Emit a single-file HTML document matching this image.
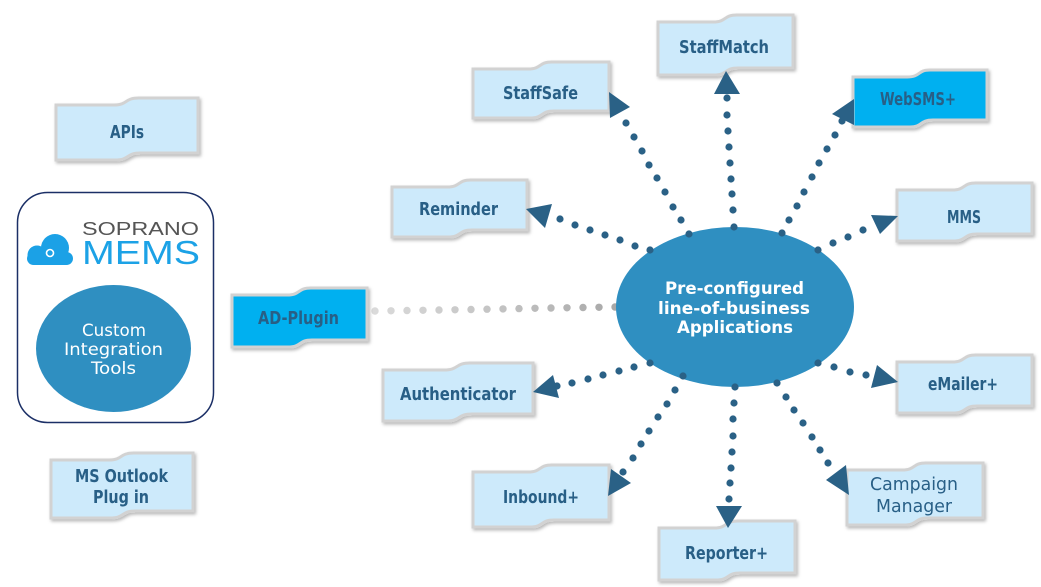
<!DOCTYPE html>
<html><head><meta charset="utf-8"><style>
html,body{margin:0;padding:0;background:#fff;}
svg{display:block;}
.bx{fill:#cdeafb;stroke:#d2d2d2;stroke-width:3;filter:url(#sh);}
.hl{fill:#00b0f0;}
.t{font-family:"DejaVu Sans","Liberation Sans",sans-serif;font-weight:bold;font-size:18px;fill:#285f86;text-anchor:middle;}
.tr{font-family:"DejaVu Sans","Liberation Sans",sans-serif;font-size:18px;fill:#285f86;text-anchor:middle;}
.w{font-family:"DejaVu Sans","Liberation Sans",sans-serif;font-size:16.5px;fill:#fff;text-anchor:middle;}
.wb{font-family:"DejaVu Sans","Liberation Sans",sans-serif;font-weight:bold;font-size:17px;fill:#fff;text-anchor:middle;}
.d circle{fill:#2a6186;}
.a polygon{fill:#2a6186;}
</style></head><body>
<svg width="1041" height="587" viewBox="0 0 1041 587" xmlns="http://www.w3.org/2000/svg">
<defs>
<filter id="sh" x="-10%" y="-15%" width="125%" height="140%">
<feDropShadow dx="1.5" dy="2" stdDeviation="1.5" flood-color="#000" flood-opacity="0.28"/>
</filter>
</defs>

<!-- left container -->
<rect x="17.5" y="192.5" width="196" height="230" rx="30" ry="30" fill="#fff" stroke="#1b2f66" stroke-width="1.5"/>
<!-- cloud -->
<g fill="#1ba1e6">
<circle cx="55" cy="248" r="14"/>
<circle cx="37" cy="255" r="9.5"/>
<rect x="27" y="252" width="46" height="13" rx="6.5"/>
</g>
<circle cx="50" cy="253" r="3.5" fill="none" stroke="#fff" stroke-width="1.6"/>
<text x="82" y="235" font-family="Liberation Sans, sans-serif" font-size="18" fill="#555" textLength="117" lengthAdjust="spacingAndGlyphs">SOPRANO</text>
<text x="82" y="264" font-family="Liberation Sans, sans-serif" font-size="33" fill="#1ca2e6" textLength="118" lengthAdjust="spacingAndGlyphs">MEMS</text>
<ellipse cx="113.5" cy="348.5" rx="77.5" ry="63.5" fill="#2f8fc1"/>
<text class="w" x="114" y="336" textLength="64" lengthAdjust="spacingAndGlyphs">Custom</text>
<text class="w" x="113.5" y="355" textLength="99" lengthAdjust="spacingAndGlyphs">Integration</text>
<text class="w" x="113.5" y="374" textLength="45" lengthAdjust="spacingAndGlyphs">Tools</text>

<!-- gray dots to AD-Plugin -->
<g>
<circle cx="615" cy="307" r="3.7" fill="#a8a8a8"/>
<circle cx="599" cy="307.3" r="3.7" fill="#acacac"/>
<circle cx="583" cy="307.5" r="3.7" fill="#b0b0b0"/>
<circle cx="567" cy="307.8" r="3.7" fill="#b4b4b4"/>
<circle cx="551" cy="308" r="3.7" fill="#b8b8b8"/>
<circle cx="535" cy="308.3" r="3.7" fill="#bbbbbb"/>
<circle cx="519" cy="308.6" r="3.7" fill="#bebebe"/>
<circle cx="503" cy="308.9" r="3.7" fill="#c2c2c2"/>
<circle cx="487" cy="309.2" r="3.7" fill="#c5c5c5"/>
<circle cx="471" cy="309.5" r="3.7" fill="#c8c8c8"/>
<circle cx="455" cy="309.8" r="3.7" fill="#cbcbcb"/>
<circle cx="439" cy="310" r="3.7" fill="#cecece"/>
<circle cx="423" cy="310.3" r="3.7" fill="#d1d1d1"/>
<circle cx="407" cy="310.5" r="3.7" fill="#d4d4d4"/>
<circle cx="391" cy="310.8" r="3.7" fill="#d7d7d7"/>
<circle cx="375" cy="311" r="3.7" fill="#dadada"/>
</g>

<!-- central ellipse -->
<ellipse cx="735" cy="307" rx="119" ry="80" fill="#2f8fc1"/>
<text class="wb" x="734.5" y="294" textLength="139" lengthAdjust="spacingAndGlyphs">Pre-configured</text>
<text class="wb" x="734" y="314" textLength="152" lengthAdjust="spacingAndGlyphs">line-of-business</text>
<text class="wb" x="735" y="333" textLength="116" lengthAdjust="spacingAndGlyphs">Applications</text>

<!-- boxes -->
<path class="bx" transform="translate(56,98)" d="M0,7h58c14,0 10,-7 25,-7H142V55h-58c-14,0 -10,7 -25,7H0Z"/>
<path class="bx" transform="translate(658,15)" d="M0,7h55c14,0 10,-7 24,-7H135V53h-55c-14,0 -10,7 -24,7H0Z"/>
<path class="bx" transform="translate(473,62)" d="M0,7h55c14,0 10,-7 24,-7H136V49h-55c-14,0 -10,7 -24,7H0Z"/>
<path class="bx hl" transform="translate(853,70)" d="M0,7h54c14,0 10,-7 23,-7H134V50h-54c-14,0 -10,7 -23,7H0Z"/>
<path class="bx" transform="translate(392,180)" d="M0,7h55c14,0 10,-7 24,-7H135V50h-55c-14,0 -10,7 -24,7H0Z"/>
<path class="bx" transform="translate(897,183)" d="M0,7h55c14,0 10,-7 24,-7H135V51h-55c-14,0 -10,7 -24,7H0Z"/>
<path class="bx hl" transform="translate(232,288)" d="M0,7h55c14,0 10,-7 24,-7H135V52h-55c-14,0 -10,7 -24,7H0Z"/>
<path class="bx" transform="translate(383,363)" d="M0,7h61c15,0 11,-7 26,-7H150V51h-61c-15,0 -11,7 -26,7H0Z"/>
<path class="bx" transform="translate(473,465)" d="M0,7h55c14,0 10,-7 24,-7H136V55h-55c-14,0 -10,7 -24,7H0Z"/>
<path class="bx" transform="translate(659,521)" d="M0,7h55c14,0 10,-7 24,-7H136V52h-55c-14,0 -10,7 -24,7H0Z"/>
<path class="bx" transform="translate(897,355)" d="M0,7h55c14,0 10,-7 24,-7H135V51h-55c-14,0 -10,7 -24,7H0Z"/>
<path class="bx" transform="translate(847,463)" d="M0,7h55c14,0 10,-7 24,-7H136V55h-55c-14,0 -10,7 -24,7H0Z"/>
<path class="bx" transform="translate(51,453)" d="M0,7h58c14,0 10,-7 25,-7H142V58h-58c-14,0 -10,7 -25,7H0Z"/>

<!-- connector dots -->
<g class="d">
<circle cx="626" cy="123" r="3.6"/><circle cx="634" cy="137" r="3.6"/><circle cx="642" cy="151" r="3.6"/><circle cx="649" cy="165" r="3.6"/><circle cx="657" cy="178" r="3.6"/><circle cx="665" cy="192" r="3.6"/><circle cx="673" cy="207" r="3.6"/><circle cx="681" cy="220" r="3.6"/><circle cx="689" cy="234" r="3.6"/>
<circle cx="727" cy="98" r="3.6"/><circle cx="727" cy="115" r="3.6"/><circle cx="728" cy="131" r="3.6"/><circle cx="729" cy="147" r="3.6"/><circle cx="730" cy="163" r="3.6"/><circle cx="731" cy="179" r="3.6"/><circle cx="732" cy="194" r="3.6"/><circle cx="733" cy="210" r="3.6"/><circle cx="734" cy="227" r="3.6"/>
<circle cx="782" cy="233" r="3.6"/><circle cx="789" cy="220" r="3.6"/><circle cx="797" cy="206" r="3.6"/><circle cx="804" cy="192" r="3.6"/><circle cx="812" cy="177" r="3.6"/><circle cx="819" cy="163" r="3.6"/><circle cx="827" cy="149" r="3.6"/><circle cx="835" cy="135" r="3.6"/><circle cx="842" cy="121" r="3.6"/>
<circle cx="818" cy="250" r="3.6"/><circle cx="833" cy="243" r="3.6"/><circle cx="848" cy="237" r="3.6"/><circle cx="863" cy="230" r="3.6"/>
<circle cx="560" cy="219" r="3.6"/><circle cx="575" cy="225" r="3.6"/><circle cx="590" cy="230" r="3.6"/><circle cx="605" cy="235" r="3.6"/><circle cx="620" cy="240" r="3.6"/><circle cx="635" cy="246" r="3.6"/><circle cx="650" cy="250" r="3.6"/>
<circle cx="650" cy="363" r="3.6"/><circle cx="634" cy="367" r="3.6"/><circle cx="619" cy="371" r="3.6"/><circle cx="603" cy="375" r="3.6"/><circle cx="588" cy="379" r="3.6"/><circle cx="572" cy="383" r="3.6"/><circle cx="557" cy="386" r="3.6"/>
<circle cx="683" cy="376" r="3.6"/><circle cx="675" cy="390" r="3.6"/><circle cx="667" cy="404" r="3.6"/><circle cx="658" cy="417" r="3.6"/><circle cx="649" cy="431" r="3.6"/><circle cx="641" cy="444" r="3.6"/><circle cx="633" cy="458" r="3.6"/><circle cx="623" cy="472" r="3.6"/>
<circle cx="735" cy="387" r="3.6"/><circle cx="734" cy="403" r="3.6"/><circle cx="733" cy="419" r="3.6"/><circle cx="733" cy="436" r="3.6"/><circle cx="732" cy="452" r="3.6"/><circle cx="731" cy="468" r="3.6"/><circle cx="730" cy="483" r="3.6"/><circle cx="729" cy="499" r="3.6"/>
<circle cx="777" cy="383" r="3.6"/><circle cx="786" cy="397" r="3.6"/><circle cx="794" cy="410" r="3.6"/><circle cx="803" cy="423" r="3.6"/><circle cx="812" cy="437" r="3.6"/><circle cx="820" cy="450" r="3.6"/><circle cx="828" cy="463" r="3.6"/>
<circle cx="818" cy="363" r="3.6"/><circle cx="834" cy="367" r="3.6"/><circle cx="850" cy="372" r="3.6"/><circle cx="866" cy="375" r="3.6"/>
</g>

<!-- arrowheads -->
<g class="a">
<polygon points="609,92 630,107 610,118"/>
<polygon points="714,94 740,94 726,71"/>
<polygon points="832,114 854,99 854,125"/>
<polygon points="871,215 898,216 880,234"/>
<polygon points="526,209 552,204 545,228"/>
<polygon points="533,392 553,375 559,398"/>
<polygon points="608,496 611,469 631,483"/>
<polygon points="716,506 742,506 728,528"/>
<polygon points="826,480 846,465 849,495"/>
<polygon points="877,365 898,382 871,388"/>
</g>

<!-- labels -->
<text class="t" x="127" y="138" textLength="34" lengthAdjust="spacingAndGlyphs">APIs</text>
<text class="t" x="724" y="53" textLength="90" lengthAdjust="spacingAndGlyphs">StaffMatch</text>
<text class="t" x="540.5" y="99" textLength="75" lengthAdjust="spacingAndGlyphs">StaffSafe</text>
<text class="t" x="918" y="105" textLength="76" lengthAdjust="spacingAndGlyphs">WebSMS+</text>
<text class="t" x="458.5" y="215" textLength="79" lengthAdjust="spacingAndGlyphs">Reminder</text>
<text class="t" x="964" y="223" textLength="34" lengthAdjust="spacingAndGlyphs">MMS</text>
<text class="t" x="298.5" y="324" textLength="81" lengthAdjust="spacingAndGlyphs">AD-Plugin</text>
<text class="t" x="458" y="400" textLength="116" lengthAdjust="spacingAndGlyphs">Authenticator</text>
<text class="t" x="541" y="503" textLength="76" lengthAdjust="spacingAndGlyphs">Inbound+</text>
<text class="t" x="726.5" y="559" textLength="83" lengthAdjust="spacingAndGlyphs">Reporter+</text>
<text class="t" x="963" y="390" textLength="70" lengthAdjust="spacingAndGlyphs">eMailer+</text>
<text class="tr" x="914" y="490" textLength="88" lengthAdjust="spacingAndGlyphs">Campaign</text>
<text class="tr" x="914" y="512" textLength="76" lengthAdjust="spacingAndGlyphs">Manager</text>
<text class="t" x="121.5" y="482" textLength="93" lengthAdjust="spacingAndGlyphs">MS Outlook</text>
<text class="t" x="121" y="503" textLength="56" lengthAdjust="spacingAndGlyphs">Plug in</text>
</svg>
</body></html>
